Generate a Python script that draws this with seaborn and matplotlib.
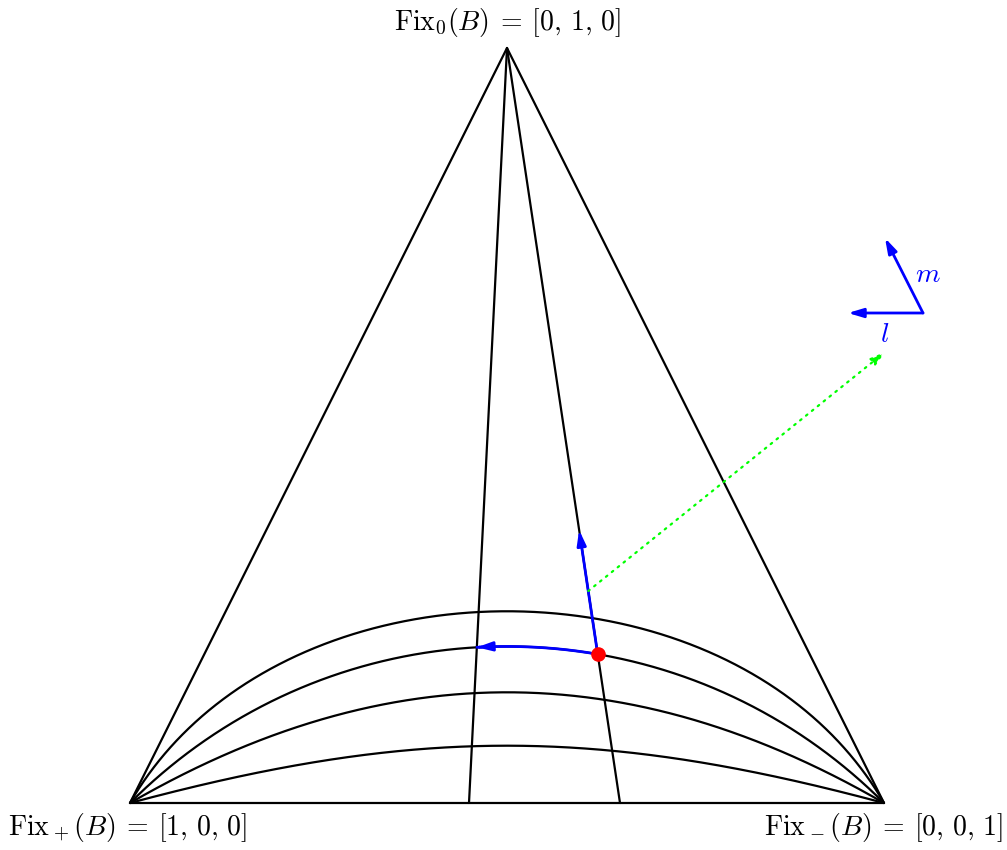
import numpy as np
import matplotlib
matplotlib.use("Agg")
import matplotlib.pyplot as plt
import seaborn as sns
import pandas as pd

# ---- data (diagram coordinates, y grows downward) ----
vertex_plus = (130, 803)
vertex_zero = (507, 48)
vertex_minus = (884, 803)
curve_out_angles = [60, 45, 30, 15]        # tangent angle (deg) of each orbit at the fixed points
ray_bottom_x = [469, 620]                  # rays from Fix_0 down to the bottom edge
flow_curve_index = 1                       # orbit carrying the red point
flow_ray_index = 1                         # ray carrying the red point
left_arrow_end_x = 477
up_arrow_end_y = 530
green_start_y = 591
green_end = (885, 352)
frame_origin = (923, 313)
frame_l_tip = (848, 313)
frame_m_tip = (885, 238)
labels = [r"$\mathrm{Fix}_0(B)\:=\:[0,\,1,\,0]$",
          r"$\mathrm{Fix}_+(B)\:=\:[1,\,0,\,0]$",
          r"$\mathrm{Fix}_-(B)\:=\:[0,\,0,\,1]$"]

BLUE = "#0000ff"; RED = "#ff0000"; GREEN = "#00ff00"

sns.set_theme(style="white")
plt.rcParams["mathtext.fontset"] = "cm"
plt.rcParams["font.family"] = ["DejaVu Serif"]
plt.rcParams["text.color"] = "black"

fig = plt.figure(figsize=(10.07, 8.5), dpi=100)
ax = fig.add_axes([0, 0, 1, 1])
ax.set_xlim(0, 1007)
ax.set_ylim(850, 0)
ax.axis("off")

def bezier(theta_deg, n=400):
    p0 = np.array(vertex_plus, float); p3 = np.array(vertex_minus, float)
    d = np.linalg.norm(p3 - p0); c = 0.3915 * d
    th = np.radians(theta_deg)
    p1 = p0 + c * np.array([np.cos(th), -np.sin(th)])
    p2 = p3 + c * np.array([-np.cos(th), -np.sin(th)])
    t = np.linspace(0, 1, n)[:, None]
    pts = (1 - t) ** 3 * p0 + 3 * (1 - t) ** 2 * t * p1 + 3 * (1 - t) * t ** 2 * p2 + t ** 3 * p3
    return pts

def draw(xs, ys, **kw):
    df = pd.DataFrame({"x": xs, "y": ys})
    sns.lineplot(data=df, x="x", y="y", sort=False, estimator=None, ax=ax, **kw)

# triangle
tri = [vertex_plus, vertex_zero, vertex_minus, vertex_plus]
draw([p[0] for p in tri], [p[1] for p in tri], color="black", lw=1.6)

# rays
for bx in ray_bottom_x:
    draw([vertex_zero[0], bx], [vertex_zero[1], vertex_plus[1]], color="black", lw=1.6)

# orbits
curves = []
for a in curve_out_angles:
    pts = bezier(a, 2000)
    curves.append(pts)
    draw(pts[:, 0], pts[:, 1], color="black", lw=1.6)

# red point = intersection of chosen orbit and chosen ray
pts = curves[flow_curve_index]
bx = ray_bottom_x[flow_ray_index]
def ray_x(y):
    return vertex_zero[0] + (bx - vertex_zero[0]) * (y - vertex_zero[1]) / (vertex_plus[1] - vertex_zero[1])
diff = pts[:, 0] - ray_x(pts[:, 1])
i_dot = np.argmin(np.abs(diff))
dot = pts[i_dot]

arrow_kw = dict(arrowstyle="-|>,head_length=0.6,head_width=0.18", lw=2.0, shrinkA=0, shrinkB=0)

# arrow along the orbit toward Fix_+
i_end = np.argmin(np.abs(pts[:, 0] - left_arrow_end_x))
seg = pts[i_end:i_dot + 1]
draw(seg[:, 0], seg[:, 1], color=BLUE, lw=2.0)
ax.annotate("", xy=seg[0], xytext=seg[6], arrowprops=dict(color=BLUE, mutation_scale=15, **arrow_kw))

# arrow along the ray toward Fix_0
up_tip = (ray_x(up_arrow_end_y), up_arrow_end_y)
ax.annotate("", xy=up_tip, xytext=dot, arrowprops=dict(color=BLUE, mutation_scale=15, **arrow_kw))

# green dotted arrow
g_start = (ray_x(green_start_y), green_start_y)
ax.annotate("", xy=green_end, xytext=g_start,
            arrowprops=dict(arrowstyle="-|>,head_length=0.6,head_width=0.18", color=GREEN, lw=1.6,
                            linestyle=(0, (0.8, 2.6)), mutation_scale=14, shrinkA=0, shrinkB=0))

# red dot
ax.plot([dot[0]], [dot[1]], "o", color=RED, ms=9.5, zorder=5)

# frame arrows
ax.annotate("", xy=frame_l_tip, xytext=frame_origin, arrowprops=dict(color=BLUE, mutation_scale=15, **arrow_kw))
ax.annotate("", xy=frame_m_tip, xytext=frame_origin, arrowprops=dict(color=BLUE, mutation_scale=15, **arrow_kw))
ax.text(928, 274, r"$m$", color=BLUE, fontsize=20, ha="center", va="center")
ax.text(885, 334, r"$l$", color=BLUE, fontsize=20, ha="center", va="center")

# vertex labels
ax.text(507, 22, labels[0], fontsize=20, ha="center", va="center", color="black")
ax.text(128, 828, labels[1], fontsize=20, ha="center", va="center", color="black")
ax.text(884, 828, labels[2], fontsize=20, ha="center", va="center", color="black")

fig.savefig("out.png", dpi=100)
